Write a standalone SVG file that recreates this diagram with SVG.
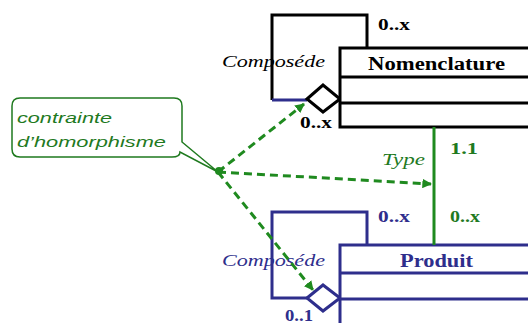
<svg xmlns="http://www.w3.org/2000/svg" width="528" height="323" viewBox="0 0 528 323">
  <defs>
    <marker id="arr" viewBox="0 0 10 10" refX="9" refY="5" markerWidth="3.2" markerHeight="3.2" orient="auto" markerUnits="strokeWidth">
      <path d="M0,0 L10,5 L0,10 Z" fill="#1f8a1f"/>
    </marker>
    <style>
      .blk { fill: none; stroke: #000; stroke-width: 3; }
      .nav { fill: none; stroke: #2e2e8c; stroke-width: 3; }
      .cls { fill: #fff; }
      .title { font-family: "Liberation Serif", serif; font-weight: bold; font-size: 18px; }
      .mult { font-family: "Liberation Serif", serif; font-weight: bold; font-size: 16px; }
      .role { font-family: "Liberation Serif", serif; font-style: italic; font-size: 17px; }
      .note { font-family: "Liberation Sans", sans-serif; font-style: italic; font-size: 14px; fill: #1f7a1f; }
      .dash { fill: none; stroke: #1f8a1f; stroke-width: 3; stroke-dasharray: 8 5; }
    </style>
  </defs>
  <rect width="528" height="323" fill="#fff"/>

  <!-- Nomenclature class with its reflexive aggregation -->
  <g id="nomenclature">
    <path class="blk" d="M367,48 V15 H272 V100"/>
    <path d="M272,100 H307" fill="none" stroke="#2e2e8c" stroke-width="3"/>
    <path class="blk" d="M307,99 L323,85 L340,99 L323,112 Z" fill="#fff"/>
    <rect class="blk cls" x="340" y="48" width="200" height="79"/>
    <path class="blk" d="M340,77 H540 M340,103 H540"/>
    <text class="title" x="368" y="70" textLength="137" lengthAdjust="spacingAndGlyphs">Nomenclature</text>
    <text class="role" x="222" y="67" textLength="103" lengthAdjust="spacingAndGlyphs">Composéde</text>
    <text class="mult" x="378" y="30" textLength="32" lengthAdjust="spacingAndGlyphs">0..x</text>
    <text class="mult" x="300" y="128" textLength="32" lengthAdjust="spacingAndGlyphs">0..x</text>
  </g>

  <!-- Produit class with its reflexive aggregation -->
  <g id="produit">
    <path class="nav" d="M367,245 V212 H272 V298 H307"/>
    <path class="nav" d="M307,298 L323,285 L340,298 L323,311 Z" fill="#fff"/>
    <rect class="nav cls" x="340" y="245" width="200" height="90"/>
    <path class="nav" d="M340,273 H540 M340,299 H540"/>
    <text class="title" x="400" y="267" textLength="73" lengthAdjust="spacingAndGlyphs" fill="#2e2e8c">Produit</text>
    <text class="role" x="222" y="266" textLength="103" lengthAdjust="spacingAndGlyphs" fill="#2e2e8c">Composéde</text>
    <text class="mult" x="378" y="222" textLength="32" lengthAdjust="spacingAndGlyphs" fill="#2e2e8c">0..x</text>
    <text class="mult" x="285" y="321" textLength="28" lengthAdjust="spacingAndGlyphs" fill="#2e2e8c">0..1</text>
  </g>

  <!-- Type association between the two classes -->
  <g id="type">
    <line x1="434" y1="127" x2="434" y2="245" stroke="#1f8a1f" stroke-width="3"/>
    <text class="role" x="382" y="165" textLength="43" lengthAdjust="spacingAndGlyphs" fill="#1f7a1f">Type</text>
    <text class="mult" x="450" y="154" textLength="28" lengthAdjust="spacingAndGlyphs" fill="#1f7a1f">1.1</text>
    <text class="mult" x="450" y="222" textLength="30" lengthAdjust="spacingAndGlyphs" fill="#1f7a1f">0..x</text>
  </g>

  <!-- Note -->
  <g id="note">
    <path d="M20,98 H174 Q182,98 182,106 V142 L218,172 L180,152 Q180,157 172,157 H20 Q12,157 12,149 V106 Q12,98 20,98 Z" fill="#fff" stroke="#1f7a1f" stroke-width="1.5"/>
    <text class="note" x="17" y="123" textLength="95" lengthAdjust="spacingAndGlyphs">contrainte</text>
    <text class="note" x="17" y="147" textLength="149" lengthAdjust="spacingAndGlyphs">d’homorphisme</text>
  </g>

  <!-- Constraint connectors -->
  <g id="connectors">
    <path class="dash" d="M218,172 L304,104" marker-end="url(#arr)"/>
    <path class="dash" d="M218,172 L431,184" marker-end="url(#arr)"/>
    <path class="dash" d="M218,172 L313,290" marker-end="url(#arr)"/>
    <circle cx="219" cy="171" r="4" fill="#1f8a1f"/>
  </g>
</svg>
